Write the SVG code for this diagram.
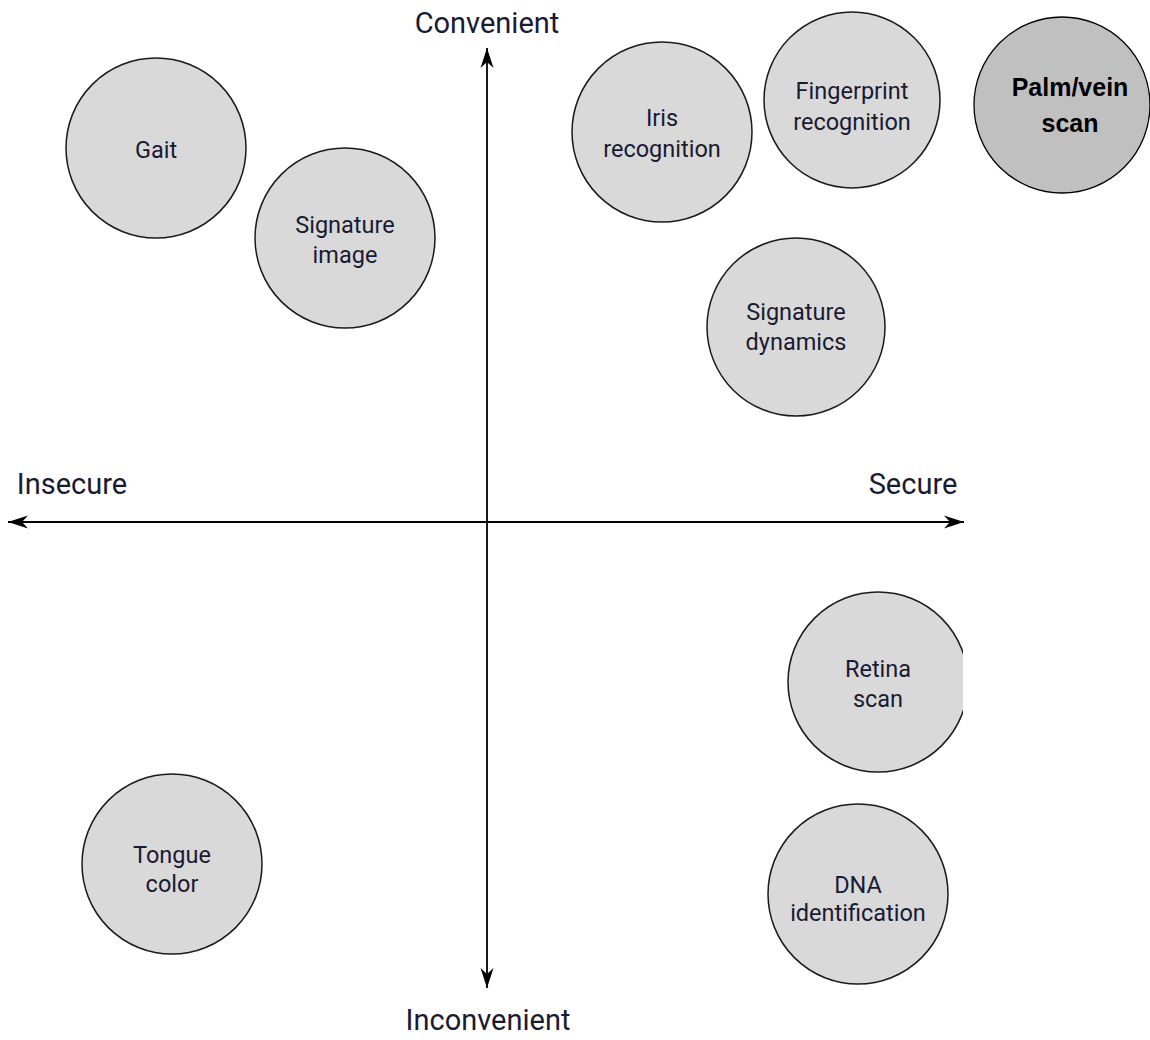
<svg xmlns="http://www.w3.org/2000/svg" width="1150" height="1040" viewBox="0 0 1150 1040">
<style>
.n{fill:#d9d9d9;stroke:#1a1a1a;stroke-width:1.5}
.t{font-family:Roboto,"Liberation Sans",sans-serif;font-size:23.5px;fill:#1a1a33;text-anchor:middle}
.ax{font-family:Roboto,"Liberation Sans",sans-serif;font-size:29px;fill:#1a1a33;text-anchor:middle}
.p{fill:#c0c0c0;stroke:#000;stroke-width:1.3}
.pt{font-family:"Liberation Sans",Arial,sans-serif;font-weight:bold;font-size:25px;fill:#000;text-anchor:middle}
.line{stroke:#000;stroke-width:1.8;fill:none}
</style>
<defs>
<marker id="ar" markerWidth="22" markerHeight="14" refX="20" refY="7" orient="auto" markerUnits="userSpaceOnUse">
<path d="M0,0.5 L20,7 L0,13.5 L6,7 Z" fill="#000"/>
</marker>
<clipPath id="rc"><rect x="0" y="0" width="963" height="1040"/></clipPath>
</defs>
<rect width="1150" height="1040" fill="#fff"/>
<g id="connectors">
<line class="line" x1="487" y1="522" x2="487" y2="48" marker-end="url(#ar)"/>
<line class="line" x1="487" y1="522" x2="487" y2="988" marker-end="url(#ar)"/>
<line class="line" x1="487" y1="522" x2="8" y2="522" marker-end="url(#ar)"/>
<line class="line" x1="487" y1="522" x2="964" y2="522" marker-end="url(#ar)"/>
</g>
<g id="axis-labels">
<text class="ax" x="487" y="33">Convenient</text>
<text class="ax" x="488" y="1030">Inconvenient</text>
<text class="ax" x="72" y="494">Insecure</text>
<text class="ax" x="913" y="494">Secure</text>
</g>
<g id="gait"><circle class="n" cx="156" cy="148" r="90"/><text class="t" x="156" y="158">Gait</text></g>
<g id="signature-image"><circle class="n" cx="345" cy="238" r="90"/><text class="t" x="345" y="233">Signature</text><text class="t" x="345" y="263">image</text></g>
<g id="iris"><circle class="n" cx="662" cy="132" r="90"/><text class="t" x="662" y="126">Iris</text><text class="t" x="662" y="157">recognition</text></g>
<g id="fingerprint"><circle class="n" cx="852" cy="100" r="88"/><text class="t" x="852" y="99">Fingerprint</text><text class="t" x="852" y="130">recognition</text></g>
<g id="palm-vein"><circle class="p" cx="1062" cy="105" r="88"/><text class="pt" x="1070" y="96">Palm/vein</text><text class="pt" x="1070" y="132">scan</text></g>
<g id="signature-dynamics"><circle class="n" cx="796" cy="327" r="89"/><text class="t" x="796" y="320">Signature</text><text class="t" x="796" y="350">dynamics</text></g>
<g id="retina"><circle class="n" cx="878" cy="682" r="90" clip-path="url(#rc)"/><text class="t" x="878" y="677">Retina</text><text class="t" x="878" y="707">scan</text></g>
<g id="dna"><circle class="n" cx="858" cy="894" r="90"/><text class="t" x="858" y="893">DNA</text><text class="t" x="858" y="921">identification</text></g>
<g id="tongue"><circle class="n" cx="172" cy="864" r="90"/><text class="t" x="172" y="863">Tongue</text><text class="t" x="172" y="892">color</text></g>
</svg>
